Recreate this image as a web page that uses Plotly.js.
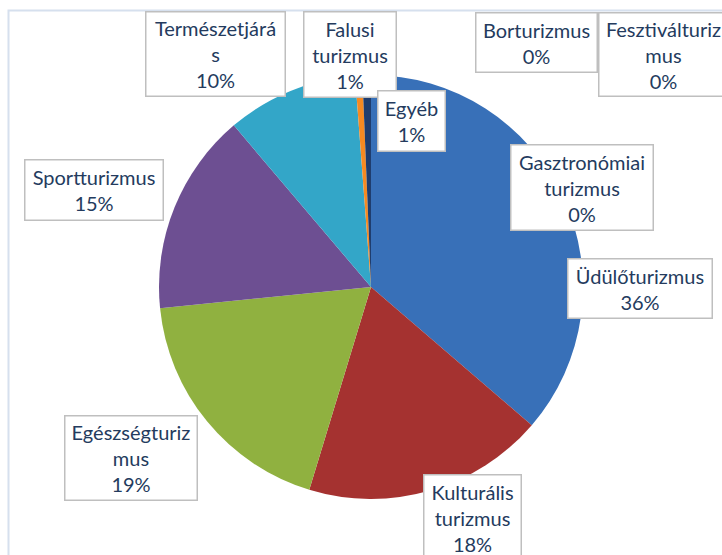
<!DOCTYPE html>
<html>
<head>
<meta charset="utf-8">
<script src="https://cdn.plot.ly/plotly-3.0.1.min.js"></script>
<style>html,body{margin:0;padding:0;background:#fff;}#chart{width:722px;height:555px;}</style>
</head>
<body>
<div id="chart"></div>
<script>
// ---- data ----
const categories = ["Üdülőturizmus", "Kulturális turizmus", "Egészségturizmus", "Sportturizmus",
  "Természetjárás", "Falusi turizmus", "Egyéb", "Gasztronómiai turizmus", "Borturizmus", "Fesztiválturizmus"];
const values = [36.3, 18.4, 18.7, 15.4, 10.0, 0.55, 0.65, 0, 0, 0];
// label text as wrapped in the data-label boxes
const labelLines = ["Üdülőturizmus", "Kulturális<br>turizmus", "Egészségturiz<br>mus", "Sportturizmus",
  "Természetjárá<br>s", "Falusi<br>turizmus", "Egyéb", "Gasztronómiai<br>turizmus", "Borturizmus", "Fesztiválturiz<br>mus"];

// ---- styles / layout (not data) ----
const colors = ["#3870B8", "#A53230", "#90B140", "#6D4F92", "#33A6C8", "#F68A22", "#1F3D6E", "#9BBB59", "#8064A2", "#4BACC6"];
// label box centre x, centre y (px from top-left), width, height
const boxes = [
  [639.5, 288, 145, 60],
  [472, 517, 98, 86],
  [130.5, 457.5, 133, 85],
  [93.5, 189.5, 139, 61],
  [216, 53.5, 140, 85],
  [349.5, 54, 93, 86],
  [411, 120.5, 68, 61],
  [581.5, 187, 143, 86],
  [536, 42, 122, 60],
  [663, 54, 130, 84]
];
const W = 722, H = 555;
const cx = 371, cy = 287, R = 212;

const total = values.reduce((a, b) => a + b, 0);
const annotations = categories.map((c, i) => {
  const pct = Math.round(values[i] / total * 100) + "%";
  const b = boxes[i];
  return {
    xref: "paper", yref: "paper",
    x: b[0] / W, y: 1 - b[1] / H,
    xanchor: "center", yanchor: "middle",
    text: labelLines[i] + "<br>" + pct,
    showarrow: false,
    align: "center", valign: "middle",
    width: b[2] - 2, height: b[3] - 2,
    borderpad: 0,
    bgcolor: "#ffffff",
    bordercolor: "#BFBFBF",
    borderwidth: 1.5,
    font: {family: "Lato, 'Open Sans', sans-serif", size: 20, color: "#243B5E"}
  };
});

const trace = {
  type: "pie",
  labels: categories,
  values: values,
  sort: false,
  direction: "clockwise",
  rotation: 0,
  textinfo: "none",
  hoverinfo: "label+percent",
  marker: {colors: colors, line: {width: 0}},
  showlegend: false,
  domain: {x: [(cx - R) / W, (cx + R) / W], y: [(H - cy - R) / H, (H - cy + R) / H]}
};

const layout = {
  width: W, height: H,
  margin: {l: 0, r: 0, t: 0, b: 0},
  paper_bgcolor: "#ffffff",
  showlegend: false,
  shapes: [{
    type: "rect", xref: "paper", yref: "paper",
    x0: 8.5 / W, x1: 1.05, y0: -0.05, y1: 1 - 10.5 / H,
    line: {color: "#D6E0EE", width: 2}, fillcolor: "rgba(0,0,0,0)", layer: "below"
  }],
  annotations: annotations
};

Plotly.newPlot("chart", [trace], layout, {displayModeBar: false, staticPlot: true});
</script>
</body>
</html>
